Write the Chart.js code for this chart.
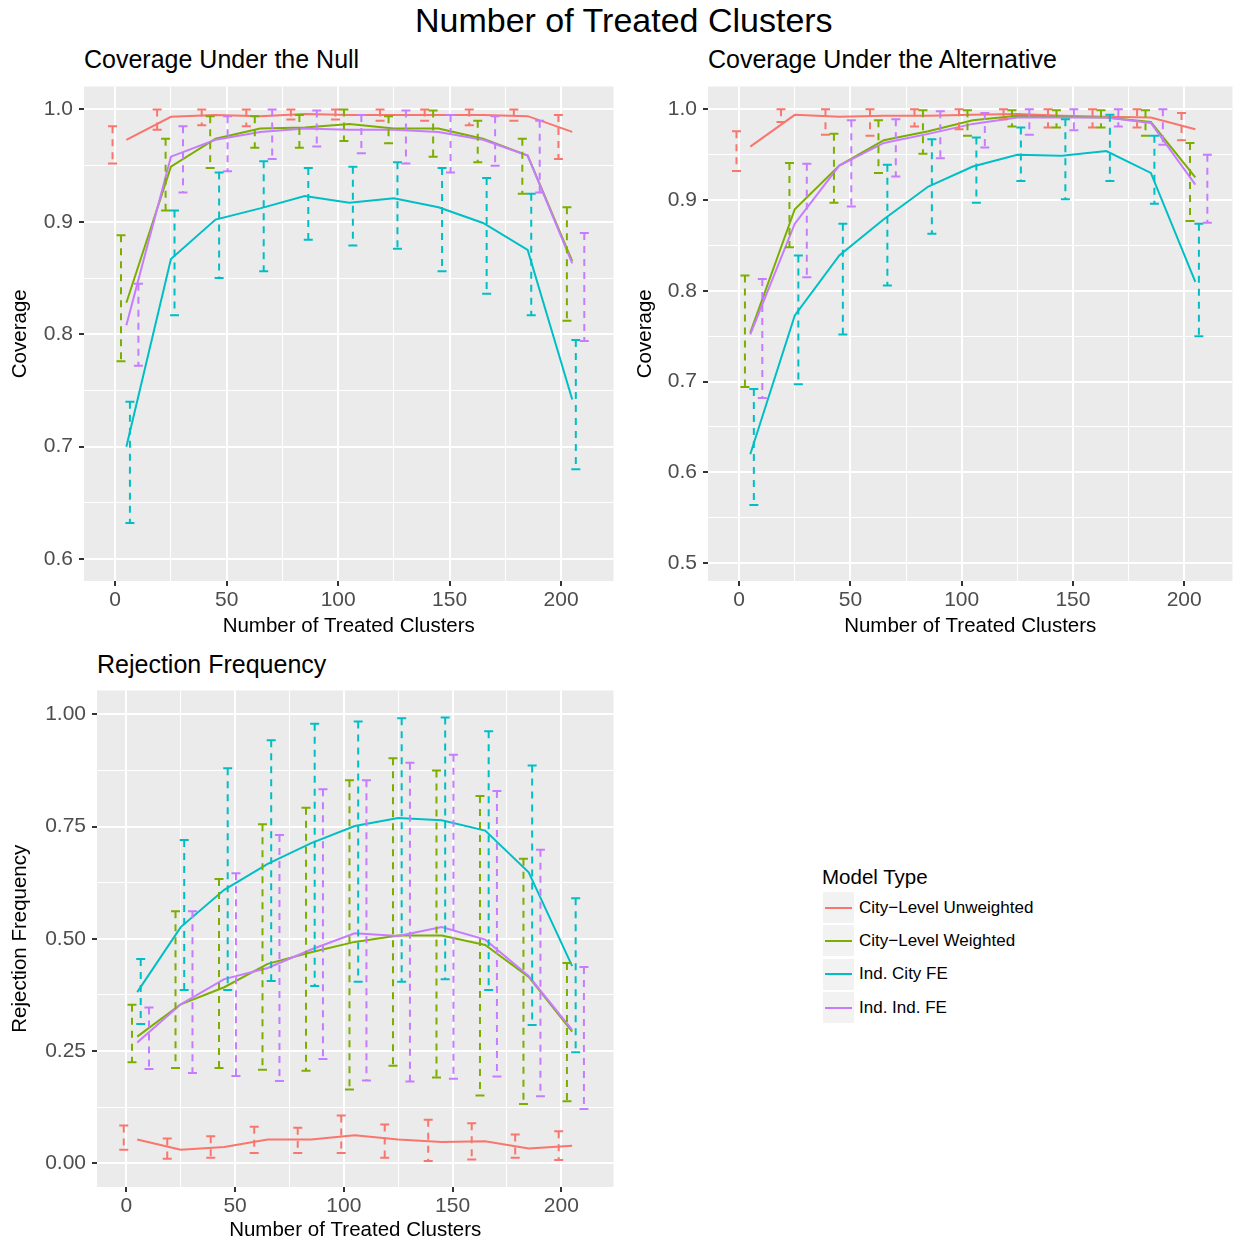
<!DOCTYPE html>
<html>
<head>
<meta charset="utf-8">
<script src="https://cdn.jsdelivr.net/npm/chart.js@4.4.0/dist/chart.umd.min.js"></script>
<style>
  body { margin: 0; background: #fff; font-family: "Liberation Sans", Arial, sans-serif; }
  #page { position: relative; width: 1239px; height: 1247px; overflow: hidden; }
  .txt { position: absolute; white-space: nowrap; color: #000; height: 40px; line-height: 40px; }
  canvas { position: absolute; }
  .key { position: absolute; left: 823px; width: 31px; height: 31px; background: #F2F2F2; }
  .key div { position: absolute; left: 2px; top: 14.5px; width: 27px; height: 2px; }
</style>
</head>
<body>
<div id="page">
  <div class="txt" style="left:415px; top:0px; font-size:34px;">Number of Treated Clusters</div>
  <div class="txt" style="left:84px; top:39px; font-size:25px;">Coverage Under the Null</div>
  <div class="txt" style="left:708px; top:39px; font-size:25px;">Coverage Under the Alternative</div>
  <div class="txt" style="left:97px; top:644px; font-size:25px;">Rejection Frequency</div>

  <canvas id="nullChart" width="620" height="560" style="left:0px; top:80px;"></canvas>
  <canvas id="altChart" width="619" height="560" style="left:620px; top:80px;"></canvas>
  <canvas id="rejChart" width="620" height="562" style="left:0px; top:684px;"></canvas>

  <div id="legend"></div>
</div>

<script>
// x values (number of treated clusters) shared by all panels
const clusters = [5, 25, 45, 65, 85, 105, 125, 145, 165, 185, 205];
const models = ['City\u2212Level Unweighted', 'City\u2212Level Weighted', 'Ind. City FE', 'Ind. Ind. FE'];

// coverage under the null: mean, lower, upper
const nullUnw    = [0.973, 0.9935, 0.995, 0.994, 0.996, 0.995, 0.995, 0.995, 0.995, 0.994, 0.980];
const nullUnwLo  = [0.952, 0.982, 0.986, 0.985, 0.991, 0.991, 0.990, 0.990, 0.986, 0.990, 0.956];
const nullUnwHi  = [0.985, 1.000, 1.000, 1.000, 1.000, 1.000, 1.000, 1.000, 1.000, 1.000, 0.995];
const nullW      = [0.828, 0.949, 0.974, 0.983, 0.984, 0.987, 0.983, 0.983, 0.974, 0.959, 0.865];
const nullWLo    = [0.776, 0.910, 0.948, 0.966, 0.966, 0.972, 0.970, 0.958, 0.953, 0.925, 0.812];
const nullWHi    = [0.888, 0.974, 0.994, 0.994, 0.995, 1.000, 0.994, 0.999, 0.990, 0.974, 0.913];
const nullCity   = [0.700, 0.867, 0.902, 0.912, 0.923, 0.917, 0.921, 0.913, 0.899, 0.875, 0.742];
const nullCityLo = [0.632, 0.817, 0.850, 0.856, 0.884, 0.879, 0.876, 0.856, 0.836, 0.817, 0.680];
const nullCityHi = [0.740, 0.910, 0.944, 0.954, 0.948, 0.949, 0.953, 0.948, 0.939, 0.925, 0.795];
const nullInd    = [0.808, 0.958, 0.973, 0.980, 0.983, 0.982, 0.982, 0.980, 0.973, 0.959, 0.863];
const nullIndLo  = [0.772, 0.926, 0.945, 0.956, 0.967, 0.961, 0.952, 0.944, 0.950, 0.926, 0.794];
const nullIndHi  = [0.845, 0.985, 0.994, 1.000, 0.999, 0.995, 0.999, 0.995, 0.994, 0.990, 0.890];

// coverage under the alternative
const altUnw    = [0.959, 0.994, 0.992, 0.993, 0.993, 0.994, 0.995, 0.993, 0.992, 0.991, 0.978];
const altUnwLo  = [0.932, 0.986, 0.972, 0.971, 0.981, 0.978, 0.989, 0.980, 0.980, 0.980, 0.966];
const altUnwHi  = [0.976, 1.000, 1.000, 1.000, 1.000, 1.000, 1.000, 1.000, 1.000, 1.000, 0.996];
const altW      = [0.754, 0.890, 0.938, 0.966, 0.976, 0.988, 0.993, 0.992, 0.991, 0.986, 0.925];
const altWLo    = [0.694, 0.848, 0.897, 0.930, 0.951, 0.971, 0.981, 0.980, 0.980, 0.971, 0.877];
const altWHi    = [0.817, 0.941, 0.973, 0.988, 0.999, 0.999, 0.999, 0.999, 0.999, 0.999, 0.963];
const altCity   = [0.620, 0.773, 0.839, 0.879, 0.915, 0.937, 0.950, 0.949, 0.954, 0.930, 0.810];
const altCityLo = [0.564, 0.697, 0.752, 0.806, 0.863, 0.897, 0.921, 0.901, 0.921, 0.896, 0.750];
const altCityHi = [0.692, 0.839, 0.874, 0.939, 0.967, 0.969, 0.980, 0.989, 0.994, 0.971, 0.874];
const altInd    = [0.752, 0.874, 0.938, 0.963, 0.973, 0.984, 0.991, 0.991, 0.991, 0.985, 0.917];
const altIndLo  = [0.682, 0.815, 0.893, 0.926, 0.946, 0.958, 0.972, 0.977, 0.981, 0.961, 0.875];
const altIndHi  = [0.813, 0.940, 0.988, 0.989, 0.998, 0.996, 1.000, 1.000, 1.000, 1.000, 0.950];

// rejection frequency
const rejUnw    = [0.053, 0.030, 0.036, 0.053, 0.053, 0.062, 0.053, 0.047, 0.049, 0.033, 0.039];
const rejUnwLo  = [0.030, 0.010, 0.012, 0.023, 0.023, 0.023, 0.012, 0.005, 0.008, 0.012, 0.007];
const rejUnwHi  = [0.084, 0.055, 0.060, 0.081, 0.079, 0.106, 0.086, 0.097, 0.089, 0.064, 0.071];
const rejW      = [0.282, 0.354, 0.392, 0.444, 0.470, 0.493, 0.507, 0.507, 0.486, 0.415, 0.293];
const rejWLo    = [0.225, 0.212, 0.212, 0.208, 0.206, 0.164, 0.217, 0.191, 0.151, 0.132, 0.138];
const rejWHi    = [0.353, 0.561, 0.633, 0.755, 0.792, 0.853, 0.902, 0.875, 0.818, 0.678, 0.446];
const rejCity   = [0.381, 0.526, 0.609, 0.667, 0.713, 0.751, 0.769, 0.764, 0.741, 0.648, 0.439];
const rejCityLo = [0.310, 0.386, 0.386, 0.406, 0.395, 0.404, 0.404, 0.410, 0.386, 0.308, 0.247];
const rejCityHi = [0.455, 0.720, 0.880, 0.942, 0.979, 0.984, 0.991, 0.993, 0.962, 0.886, 0.590];
const rejInd    = [0.269, 0.354, 0.410, 0.435, 0.476, 0.512, 0.506, 0.526, 0.498, 0.417, 0.297];
const rejIndLo  = [0.210, 0.201, 0.194, 0.183, 0.232, 0.184, 0.182, 0.188, 0.193, 0.149, 0.121];
const rejIndHi  = [0.347, 0.561, 0.646, 0.731, 0.833, 0.853, 0.892, 0.910, 0.829, 0.698, 0.437];

// axis ticks
const xTicks = [0, 50, 100, 150, 200];
const xMinor = [25, 75, 125, 175];
const coverageTicks = [0.6, 0.7, 0.8, 0.9, 1.0];
const coverageMinor = [0.65, 0.75, 0.85, 0.95];
const altTicks = [0.5, 0.6, 0.7, 0.8, 0.9, 1.0];
const altMinor = [0.55, 0.65, 0.75, 0.85, 0.95];
const rejTicks = [0, 0.25, 0.5, 0.75, 1.0];
const rejMinor = [0.125, 0.375, 0.625, 0.875];

const colors = ['#F8766D', '#7CAE00', '#00BFC4', '#C77CFF'];
const dodge = [-6.2, -2.4, 1.6, 5.4];   // error bars are spread around each x
const FONT = '"Liberation Sans", Arial, sans-serif';

// grey panel behind the grid
const panelBg = {
  id: 'panelBg',
  beforeDraw(chart) {
    const { ctx, chartArea: a } = chart;
    ctx.save();
    ctx.fillStyle = '#EBEBEB';
    ctx.fillRect(a.left, a.top, a.right - a.left, a.bottom - a.top);
    ctx.restore();
  }
};

function buildSets(means, lows, highs) {
  const sets = [];
  means.forEach((m, s) => {
    sets.push({
      data: clusters.map((c, i) => ({ x: c, y: m[i] })),
      borderColor: colors[s], borderWidth: 2, pointRadius: 0, tension: 0, order: 8 - s
    });
  });
  lows.forEach((lo, s) => {
    const pts = [];
    clusters.forEach((c, i) => {
      const x = c + dodge[s];
      pts.push({ x: x, y: highs[s][i] }, { x: x, y: lo[i] }, { x: x, y: null });
    });
    sets.push({
      data: pts, borderColor: colors[s], borderWidth: 2, borderDash: [7, 6],
      pointStyle: 'line', pointRadius: 4.5, pointBorderWidth: 2,
      pointBorderColor: colors[s], pointBackgroundColor: colors[s],
      spanGaps: false, order: 4 - s
    });
  });
  return sets;
}

function gridOpts(major) {
  const isMajor = c => c.tick && major.some(v => Math.abs(v - c.tick.value) < 1e-9);
  return {
    color: '#FFFFFF',
    lineWidth: c => isMajor(c) ? 2 : 1,
    tickColor: c => isMajor(c) ? '#333333' : 'rgba(0,0,0,0)',
    tickLength: 5,
    tickWidth: 2
  };
}

function makePanel(id, cfg) {
  const allX = xTicks.concat(xMinor).sort((a, b) => a - b);
  const allY = cfg.yTicks.concat(cfg.yMinor).sort((a, b) => a - b);
  new Chart(document.getElementById(id), {
    type: 'line',
    data: { datasets: buildSets(cfg.means, cfg.lows, cfg.highs) },
    options: {
      responsive: false, animation: false, devicePixelRatio: 1, events: [],
      layout: { padding: { top: 4, right: cfg.padRight, left: 0, bottom: 0 } },
      plugins: { legend: { display: false }, tooltip: { enabled: false } },
      scales: {
        x: {
          type: 'linear', min: cfg.xMin, max: cfg.xMax,
          afterBuildTicks: s => { s.ticks = allX.map(v => ({ value: v })); },
          afterFit: s => { s.height = 59; s.paddingLeft = 0; s.paddingRight = 0; },
          grid: gridOpts(xTicks),
          border: { display: false },
          ticks: {
            autoSkip: false, maxRotation: 0, padding: 2, color: '#4D4D4D',
            font: { family: FONT, size: 21 },
            callback: v => xTicks.includes(v) ? String(v) : ''
          },
          title: {
            display: true, text: 'Number of Treated Clusters', color: '#000',
            font: { family: FONT, size: 20.5 }, padding: { top: 0, bottom: cfg.xTitlePad }
          }
        },
        y: {
          type: 'linear', min: cfg.yMin, max: cfg.yMax,
          afterBuildTicks: s => { s.ticks = allY.map(v => ({ value: v })); },
          afterFit: s => { s.width = cfg.yWidth; s.paddingTop = 0; s.paddingBottom = 0; },
          grid: gridOpts(cfg.yTicks),
          border: { display: false },
          ticks: {
            autoSkip: false, padding: 6, color: '#4D4D4D',
            font: { family: FONT, size: 21 },
            callback: v => cfg.yTicks.some(t => Math.abs(t - v) < 1e-9) ? v.toFixed(cfg.digits) : ''
          },
          title: {
            display: true, text: cfg.yTitle, color: '#000',
            font: { family: FONT, size: 20.5 }, padding: { top: cfg.yTitlePad, bottom: 0 }
          }
        }
      }
    },
    plugins: [panelBg]
  });
}

makePanel('nullChart', {
  means: [nullUnw, nullW, nullCity, nullInd],
  lows: [nullUnwLo, nullWLo, nullCityLo, nullIndLo],
  highs: [nullUnwHi, nullWHi, nullCityHi, nullIndHi],
  xMin: -14, xMax: 223.5, yMin: 0.5805, yMax: 1.0204,
  yTicks: coverageTicks, yMinor: coverageMinor, digits: 1,
  yTitle: 'Coverage', yWidth: 84, yTitlePad: 7.7, xTitlePad: 1.7, padRight: 4
});

makePanel('altChart', {
  means: [altUnw, altW, altCity, altInd],
  lows: [altUnwLo, altWLo, altCityLo, altIndLo],
  highs: [altUnwHi, altWHi, altCityHi, altIndHi],
  xMin: -14, xMax: 221.7, yMin: 0.4803, yMax: 1.0252,
  yTicks: altTicks, yMinor: altMinor, digits: 1,
  yTitle: 'Coverage', yWidth: 88, yTitlePad: 12.7, xTitlePad: 1.7, padRight: 3
});

makePanel('rejChart', {
  means: [rejUnw, rejW, rejCity, rejInd],
  lows: [rejUnwLo, rejWLo, rejCityLo, rejIndLo],
  highs: [rejUnwHi, rejWHi, rejCityHi, rejIndHi],
  xMin: -13.5, xMax: 224, yMin: -0.053, yMax: 1.053,
  yTicks: rejTicks, yMinor: rejMinor, digits: 2,
  yTitle: 'Rejection Frequency', yWidth: 97, yTitlePad: 7.7, xTitlePad: 3.7, padRight: 4
});

// legend for the model types
const legend = document.getElementById('legend');
let html = '<div class="txt" style="left:822px; top:857px; font-size:20.5px;">Model Type</div>';
models.forEach((name, i) => {
  const top = 892 + i * 33.4;
  html += '<div class="key" style="top:' + top + 'px;"><div style="background:' + colors[i] + ';"></div></div>';
  html += '<div class="txt" style="left:859px; top:' + (top + 15.5 - 20) + 'px; font-size:17px;">' + name + '</div>';
});
legend.innerHTML = html;
</script>
</body>
</html>
